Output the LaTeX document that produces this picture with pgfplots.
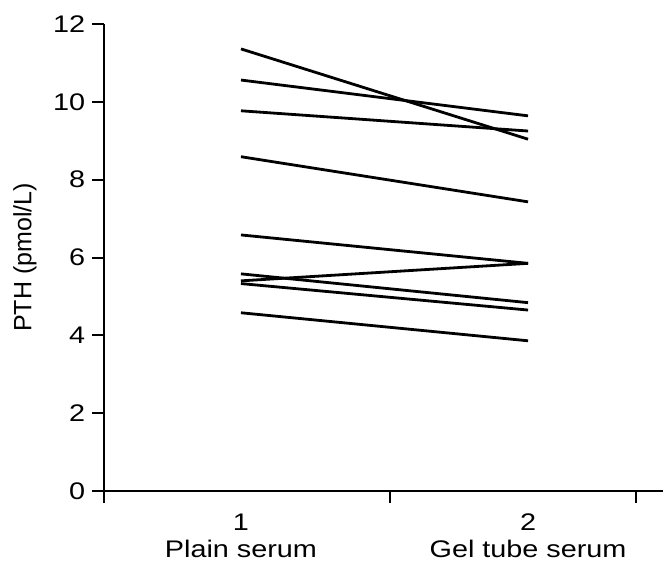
\documentclass[border=0pt]{standalone}
\usepackage{fontspec}
\setmainfont{Liberation Sans}
\newfontfamily\widesans{Liberation Sans}[FakeStretch=1.2]
\usepackage{pgfplots}
\pgfplotsset{compat=1.18}
\pgfplotsset{pair/.style={black, solid, line width=1.4pt, mark=none}}

\begin{document}
\begin{tikzpicture}
\useasboundingbox (-52.15pt,-36.5pt) rectangle (279.35pt,245.5pt);
\begin{axis}[
  at={(0,0)}, anchor=south west,
  scale only axis, width=279.35pt, height=233.5pt,
  xmin=0.524, xmax=2.47, ymin=0, ymax=12,
  axis lines=left, axis line style={-, line width=1pt},
  tick align=outside, major tick length=6pt,
  tick style={line width=1pt, black},
  xtick={0.524,1.519,2.376}, xticklabels={,,},
  extra x ticks={1,2},
  extra x tick labels={{1\\Plain serum},{2\\Gel tube serum}},
  extra x tick style={major tick length=0pt,
    xticklabel style={align=center, font=\widesans\fontsize{12}{13.5}\selectfont, yshift=-8pt}},
  ytick={0,2,...,12},
  yticklabel style={font=\widesans\fontsize{12}{14}\selectfont},
  /pgf/number format/assume math mode=true,
  ylabel={PTH (pmol/L)},
  ylabel style={font=\fontsize{12.5}{14}\selectfont, at={(axis description cs:-0.142,0.5)}, anchor=center},
]
\addplot[pair] coordinates {(1,11.36) (2,9.04)};
\addplot[pair] coordinates {(1,10.56) (2,9.64)};
\addplot[pair] coordinates {(1,9.77) (2,9.25)};
\addplot[pair] coordinates {(1,8.59) (2,7.43)};
\addplot[pair] coordinates {(1,6.58) (2,5.85)};
\addplot[pair] coordinates {(1,5.58) (2,4.84)};
\addplot[pair] coordinates {(1,5.40) (2,5.85)};
\addplot[pair] coordinates {(1,5.33) (2,4.65)};
\addplot[pair] coordinates {(1,4.58) (2,3.86)};
\end{axis}
\end{tikzpicture}
\end{document}
